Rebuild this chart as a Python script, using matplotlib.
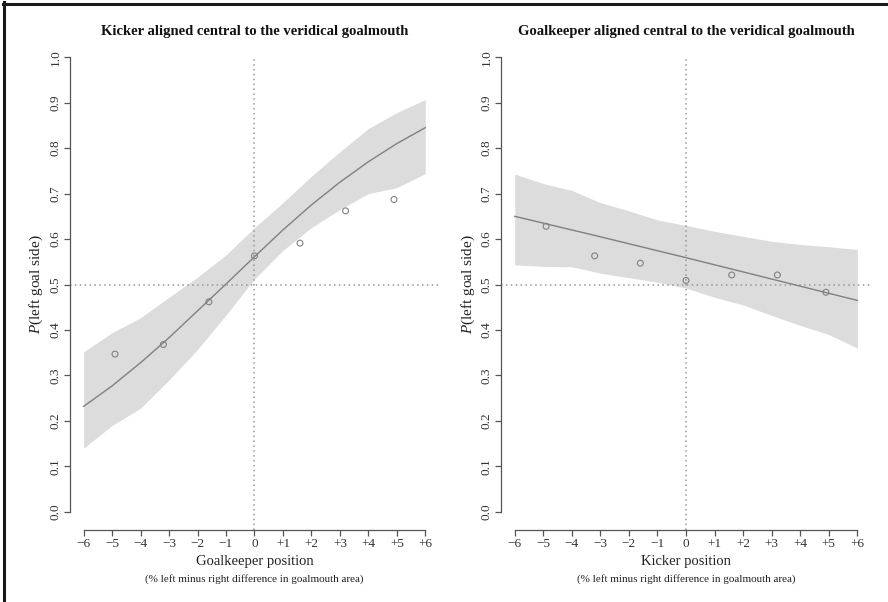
import numpy as np
import matplotlib
matplotlib.use("Agg")
import matplotlib.pyplot as plt
from matplotlib.lines import Line2D

plt.rcParams['font.family'] = ['Liberation Serif', 'DejaVu Serif']
plt.rcParams['mathtext.fontset'] = 'custom'
plt.rcParams['mathtext.it'] = 'Liberation Serif:italic'

# wspolne osie x
grid_x = [-6, -5, -4, -3, -2, -1, 0, 1, 2, 3, 4, 5, 6]
obs_x = [-4.9, -3.2, -1.6, 0.0, 1.6, 3.2, 4.9]
tick_labels = ['\u22126', '\u22125', '\u22124', '\u22123', '\u22122', '\u22121', '0',
               '+1', '+2', '+3', '+4', '+5', '+6']
y_ticks = [0.0, 0.1, 0.2, 0.3, 0.4, 0.5, 0.6, 0.7, 0.8, 0.9, 1.0]

# lewy panel - bramkarz
gk_fit = [0.232, 0.277, 0.328, 0.383, 0.442, 0.501, 0.561, 0.620, 0.675, 0.725, 0.770, 0.810, 0.845]
gk_upper = [0.352, 0.394, 0.427, 0.472, 0.516, 0.565, 0.625, 0.680, 0.738, 0.792, 0.843, 0.878, 0.907]
gk_lower = [0.140, 0.190, 0.228, 0.290, 0.357, 0.433, 0.512, 0.575, 0.625, 0.665, 0.700, 0.713, 0.744]
gk_obs = [0.347, 0.368, 0.462, 0.563, 0.591, 0.662, 0.687]

# prawy panel - strzelec
kick_fit_x = [-6, -3, 0, 3, 6]
kick_fit = [0.650, 0.605, 0.559, 0.512, 0.465]
kick_upper = [0.743, 0.722, 0.707, 0.680, 0.662, 0.642, 0.630, 0.617, 0.606, 0.595, 0.588, 0.583, 0.577]
kick_lower = [0.543, 0.540, 0.539, 0.525, 0.515, 0.505, 0.492, 0.472, 0.455, 0.432, 0.410, 0.390, 0.360]
kick_obs = [0.628, 0.563, 0.547, 0.509, 0.521, 0.521, 0.483]

titles = ['Kicker aligned central to the veridical goalmouth',
          'Goalkeeper aligned central to the veridical goalmouth']
xlabels = ['Goalkeeper position', 'Kicker position']
subtitle = '(% left minus right difference in goalmouth area)'

AXIS_COLOR = '#555555'


def draw_panel(ax, fit_x, fit, lower, upper, obs, title, xlabel):
    ax.fill_between(grid_x, lower, upper, color='#dcdcdc', lw=0, zorder=1)
    ax.axhline(0.5, color='#999999', lw=1.1, ls=(0, (1, 2.2)), zorder=2)
    ax.axvline(0, ymin=0, ymax=1.04 / 1.08, color='#999999', lw=1.1, ls=(0, (1, 2.2)), zorder=2)
    ax.plot(fit_x, fit, color='#808080', lw=1.0, zorder=3)
    ax.scatter(obs_x, obs, s=18, facecolors='none', edgecolors='#808080', lw=0.8, zorder=4)

    ax.set_xlim(-6.48, 6.48)
    ax.set_ylim(-0.04, 1.04)
    for side in ['top', 'right']:
        ax.spines[side].set_visible(False)
    ax.spines['left'].set_bounds(0, 1)
    ax.spines['bottom'].set_bounds(-6, 6)
    for side in ['left', 'bottom']:
        ax.spines[side].set_color(AXIS_COLOR)
        ax.spines[side].set_linewidth(0.9)

    ax.set_xticks(grid_x)
    ax.set_xticklabels(tick_labels, fontsize=9.5)
    ax.set_yticks(y_ticks)
    ax.set_yticklabels(['%.1f' % v for v in y_ticks], fontsize=9.5, rotation=90, va='center')
    ax.tick_params(colors=AXIS_COLOR, labelcolor='#333333', length=4, width=0.9, pad=2)

    ax.set_title(title, fontsize=10.5, fontweight='bold', pad=3, color='#111111')
    ax.set_xlabel(xlabel, fontsize=10.5, labelpad=3, color='#222222')
    ax.text(0.5, -0.09, subtitle, transform=ax.transAxes, ha='center', va='top',
            fontsize=8, color='#222222')
    ax.set_ylabel('$P$(left goal side)', fontsize=11, labelpad=3, color='#222222')


fig = plt.figure(figsize=(8.88, 6.02), dpi=100)
ax1 = fig.add_axes([0.0788, 0.1196, 0.4155, 0.8156])
ax2 = fig.add_axes([0.5642, 0.1196, 0.4167, 0.8156])

draw_panel(ax1, grid_x, gk_fit, gk_lower, gk_upper, gk_obs, titles[0], xlabels[0])
draw_panel(ax2, kick_fit_x, kick_fit, kick_lower, kick_upper, kick_obs, titles[1], xlabels[1])

# ramka (tylko gorna i lewa krawedz)
fig.add_artist(Line2D([0.005, 0.005], [0, 1 - 0.004], transform=fig.transFigure,
                      color='#1a1a1a', lw=2.2))
fig.add_artist(Line2D([0.003, 1], [1 - 0.0066, 1 - 0.0066], transform=fig.transFigure,
                      color='#1a1a1a', lw=2.2))

fig.savefig('out.png', dpi=100)
